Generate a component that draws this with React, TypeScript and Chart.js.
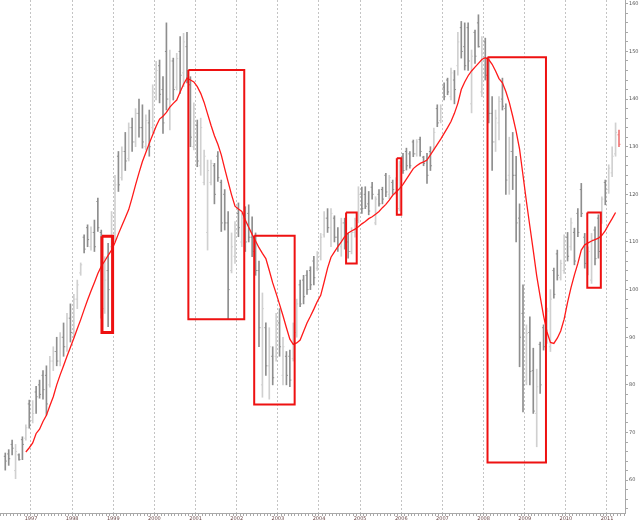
import React, { useEffect, useRef } from 'react';
import { Chart, registerables } from 'chart.js';

Chart.register(...registerables);

// x positions are months counted from January 1997 (first bar = May 1996)
const BASE_YEAR = 1997;
const FIRST_BAR_MONTH = -7.5;
const X_MIN = -9.04;
const X_MAX = 173.25;
const Y_MIN = 53.1;
const Y_MAX = 160.8;

const opens = [
  65.0, 65.5, 67.5, 62.0, 65.3, 68.5, 68.8, 76.0, 72.5, 78.5, 80.0, 82.0,
  82.0, 80.0, 85.0, 87.0, 85.0, 90.0, 88.0, 94.0, 91.0, 98.0, 103.5, 111.0,
  113.0, 109.0, 112.0, 118.5, 112.0, 96.0, 104.0, 109.0, 116.0, 128.0, 123.5, 129.0,
  127.5, 134.0, 131.0, 137.0, 134.0, 130.0, 135.0, 134.0, 140.0, 147.0, 142.0, 150.0,
  140.0, 148.0, 142.5, 150.0, 145.5, 151.0, 143.0, 130.0, 134.5, 126.0, 122.5, 112.0,
  122.5, 126.0, 128.0, 122.5, 120.0, 114.0, 104.0, 107.0, 116.0, 110.0, 116.0, 116.0,
  111.0, 108.0, 104.0, 80.0, 92.0, 84.0, 86.0, 86.0, 93.0, 82.0, 86.0, 86.0,
  85.5, 91.0, 101.0, 102.0, 103.0, 104.0, 106.0, 104.5, 107.0, 111.5, 115.0, 113.0,
  115.0, 111.0, 109.0, 114.0, 110.0, 108.0, 112.0, 114.5, 120.0, 120.0, 118.0, 121.5,
  114.0, 120.0, 121.0, 124.0, 120.0, 122.5, 120.5, 117.0, 128.0, 129.0, 128.5, 131.0,
  128.5, 131.5, 127.8, 127.0, 129.0, 129.5, 138.0, 135.5, 142.5, 144.0, 140.5, 144.0,
  147.0, 155.0, 151.0, 155.0, 139.0, 154.0, 156.0, 141.5, 152.0, 146.0, 137.0, 131.0,
  135.0, 140.0, 138.0, 124.0, 129.0, 124.0, 115.0, 95.0, 81.0, 91.0, 83.0, 74.0,
  88.5, 92.0, 89.0, 88.0, 104.0, 107.5, 102.5, 104.0, 111.0, 109.0, 112.0, 116.0,
  121.0, 111.0, 103.5, 102.0, 112.5, 115.0, 114.5, 122.5, 121.0, 124.5, 128.5, 132.5,
];

const highs = [
  65.7, 66.4, 68.4, 67.5, 65.5, 69.1, 71.6, 76.8, 76.7, 79.7, 81.0, 83.0,
  84.0, 86.0, 88.0, 90.0, 91.0, 93.0, 95.0, 97.0, 99.0, 102.0, 105.6, 111.5,
  113.6, 113.2, 114.6, 119.2, 112.5, 106.9, 109.7, 116.4, 124.0, 129.0, 130.0, 133.0,
  135.0, 136.0, 138.0, 140.0, 138.8, 136.7, 137.7, 143.0, 147.9, 148.2, 144.7, 156.0,
  150.3, 148.6, 149.6, 153.1, 153.8, 154.0, 144.7, 139.2, 135.6, 136.0, 129.3, 127.2,
  127.2, 126.5, 129.0, 123.0, 121.0, 116.4, 111.9, 114.3, 118.2, 116.0, 117.4, 117.8,
  115.3, 111.9, 106.0, 99.3, 93.0, 92.0, 88.0, 95.0, 96.0, 90.0, 87.0, 87.3,
  93.0, 98.0, 102.0, 103.0, 104.0, 104.8, 107.0, 108.0, 111.8, 116.4, 117.0, 117.0,
  115.5, 113.0, 115.0, 115.0, 111.8, 113.0, 115.0, 121.6, 121.5, 121.6, 120.6, 122.5,
  119.5, 121.0, 121.5, 124.4, 124.0, 123.0, 123.5, 127.0, 128.6, 129.7, 129.0, 131.4,
  131.5, 132.0, 128.0, 128.6, 130.0, 133.9, 138.8, 138.8, 143.4, 144.4, 146.5, 146.0,
  154.0, 156.3, 156.0, 156.0, 150.3, 154.5, 157.7, 153.1, 152.8, 148.5, 140.5, 137.7,
  140.5, 144.4, 139.0, 132.0, 133.0, 128.0, 118.0, 101.0, 92.6, 94.3, 87.7, 83.3,
  89.0, 92.6, 96.1, 100.0, 104.5, 108.3, 106.2, 111.5, 112.0, 115.0, 112.9, 117.0,
  122.3, 111.8, 109.0, 111.8, 113.2, 115.7, 119.5, 123.0, 126.2, 130.0, 135.0, 133.5,
];

const lows = [
  62.1, 63.1, 65.3, 60.3, 64.2, 64.3, 68.4, 70.9, 72.0, 74.0, 77.2, 77.0,
  73.7, 79.5, 83.0, 84.0, 84.0, 86.0, 87.0, 89.0, 90.0, 96.0, 103.0, 107.7,
  109.0, 108.3, 108.0, 112.2, 94.0, 95.0, 92.2, 108.3, 110.0, 120.6, 123.0, 125.0,
  127.0, 129.0, 130.0, 132.0, 129.7, 129.3, 128.0, 132.9, 139.8, 139.2, 132.8, 137.7,
  133.5, 139.8, 141.9, 141.2, 142.6, 143.4, 130.0, 129.3, 125.8, 124.0, 122.0, 108.3,
  122.0, 118.0, 122.7, 112.2, 112.5, 93.8, 103.5, 105.5, 111.1, 109.0, 108.0, 110.0,
  106.9, 103.0, 88.0, 77.4, 82.0, 77.0, 80.0, 85.0, 86.0, 80.0, 80.0, 79.6,
  85.0, 90.0, 96.4, 97.0, 99.0, 100.0, 101.0, 104.0, 106.2, 111.0, 112.0, 109.0,
  110.0, 108.0, 107.0, 108.5, 106.6, 107.5, 111.0, 114.0, 116.0, 117.0, 115.7, 119.0,
  113.6, 117.5, 118.0, 119.5, 119.0, 120.0, 120.0, 116.5, 124.4, 125.1, 125.5, 127.9,
  128.0, 128.0, 126.0, 122.3, 125.0, 129.3, 134.2, 135.0, 139.8, 140.9, 139.8, 139.0,
  145.0, 148.6, 146.1, 146.0, 137.1, 147.5, 150.9, 140.5, 144.0, 135.0, 125.0, 129.0,
  131.4, 137.7, 120.0, 120.0, 121.0, 110.0, 83.8, 74.3, 80.0, 80.0, 74.0, 67.0,
  78.2, 87.3, 88.7, 87.0, 98.2, 102.0, 102.0, 103.4, 106.0, 108.3, 105.2, 111.1,
  115.3, 104.5, 103.1, 101.3, 105.2, 106.6, 113.9, 117.8, 120.2, 123.7, 128.0, 130.0,
];

const closes = [
  64.0, 64.5, 66.7, 66.0, 64.3, 67.5, 71.0, 71.5, 74.0, 77.5, 78.0, 79.0,
  76.0, 85.0, 87.0, 85.0, 90.0, 88.0, 94.0, 91.0, 98.0, 101.0, 105.2, 108.5,
  110.5, 112.0, 109.0, 113.0, 96.0, 102.0, 100.0, 115.5, 122.0, 122.0, 129.0, 127.0,
  134.0, 131.0, 137.0, 134.0, 131.0, 135.5, 130.0, 141.5, 146.0, 141.0, 135.0, 140.0,
  148.0, 142.0, 148.5, 145.0, 152.0, 145.0, 132.0, 138.0, 127.0, 134.0, 128.0, 125.0,
  126.5, 120.0, 123.5, 114.0, 114.0, 100.0, 109.0, 112.5, 113.0, 115.0, 110.0, 111.0,
  108.0, 104.0, 92.0, 96.0, 84.0, 88.0, 81.5, 93.0, 88.0, 88.0, 82.0, 81.0,
  92.5, 97.0, 97.0, 98.5, 100.0, 101.0, 102.5, 107.5, 111.0, 115.0, 113.0, 116.0,
  111.0, 109.5, 114.0, 110.0, 108.0, 112.0, 114.5, 120.0, 117.0, 117.5, 116.5, 120.0,
  119.0, 118.0, 119.0, 120.5, 123.5, 121.0, 123.0, 126.0, 125.0, 126.0, 126.0, 128.5,
  131.0, 129.0, 126.5, 124.0, 126.0, 133.0, 135.0, 138.0, 140.5, 141.5, 145.5, 142.0,
  152.0, 150.0, 147.0, 148.0, 149.0, 149.0, 151.0, 149.5, 145.0, 137.0, 131.0, 136.0,
  139.5, 138.5, 123.0, 129.0, 124.0, 114.0, 90.0, 80.0, 90.8, 82.8, 74.5, 79.6,
  80.0, 88.0, 95.5, 98.0, 99.0, 103.0, 105.5, 110.0, 107.0, 114.0, 106.0, 112.0,
  116.0, 105.5, 108.0, 110.5, 106.5, 108.0, 119.0, 118.5, 125.5, 128.0, 133.0, 130.5,
];

// moving average line, starts at bar index MA_START
const MA_START = 6;
const maValues = [
  65.9, 66.8, 67.8, 69.8, 70.7, 72.3, 73.6, 75.6, 77.5, 80.0, 82.1, 84.0,
  86.0, 87.9, 89.8, 91.8, 93.7, 95.8, 97.8, 99.7, 101.5, 103.4, 104.9, 106.0,
  107.2, 108.3, 109.9, 111.7, 113.4, 115.1, 116.8, 119.3, 122.0, 124.5, 126.9, 128.8,
  130.7, 132.5, 134.3, 135.8, 136.4, 137.2, 138.3, 139.1, 139.8, 141.5, 143.1, 144.4,
  144.0, 143.6, 142.6, 141.2, 139.3, 136.9, 134.5, 132.3, 130.5, 128.3, 125.4, 122.6,
  119.9, 117.5, 116.9, 116.4, 114.6, 113.1, 111.6, 110.2, 108.8, 107.6, 106.5, 104.0,
  101.4, 99.2, 96.9, 94.5, 92.0, 89.6, 88.5, 88.8, 89.4, 91.2, 93.0, 94.4,
  95.9, 97.5, 98.8, 101.6, 104.5, 106.8, 107.9, 109.0, 110.0, 111.1, 111.9, 112.3,
  112.7, 113.2, 113.8, 114.3, 114.9, 115.3, 115.8, 116.4, 117.2, 117.9, 118.8, 119.8,
  120.5, 121.2, 122.1, 123.2, 124.3, 125.4, 126.0, 126.5, 126.8, 127.2, 128.3, 129.4,
  130.5, 131.6, 132.8, 134.0, 135.3, 137.0, 139.1, 142.0, 143.6, 144.9, 145.9, 146.7,
  147.5, 148.3, 148.7, 148.3, 147.3, 145.9, 144.3, 143.4, 141.6, 139.3, 136.4, 133.2,
  129.5, 124.0, 118.5, 113.3, 108.2, 102.9, 98.6, 94.5, 91.1, 88.9, 88.7, 89.8,
  91.3, 93.8, 97.3, 100.4, 103.1, 105.5, 108.3, 109.4, 109.8, 110.2, 110.5, 110.8,
  111.4, 112.4, 113.7, 114.9, 116.2,
];

// highlighted rectangles (x in months from Jan 1997, y in price)
const boxLeft = [20.7, 45.9, 65.1, 91.9, 106.7, 133.15, 162.25];
const boxRight = [23.8, 62.2, 76.9, 95.0, 108.0, 150.2, 166.2];
const boxTop = [111.2, 146.1, 111.3, 116.2, 127.6, 148.8, 116.2];
const boxBottom = [91.0, 93.8, 75.9, 105.5, 115.7, 63.7, 100.4];

export default function App() {
  const canvasRef = useRef<HTMLCanvasElement | null>(null);

  useEffect(() => {
    const canvas = canvasRef.current;
    if (!canvas) return;
    const last = opens.length - 1;
    const xs = opens.map((_, i) => FIRST_BAR_MONTH + i);
    const colors = opens.map((o, i) =>
      i === last ? '#f07878' : closes[i] < o ? '#8e8e8e' : '#d0d0d0'
    );

    const boxSets = boxLeft.map((l, k) => ({
      type: 'line' as const,
      data: [
        { x: l, y: boxTop[k] },
        { x: boxRight[k], y: boxTop[k] },
        { x: boxRight[k], y: boxBottom[k] },
        { x: l, y: boxBottom[k] },
        { x: l, y: boxTop[k] },
      ],
      borderColor: '#ee1111',
      borderWidth: k === 0 ? 3 : 2,
      pointRadius: 0,
      tension: 0,
      fill: false,
      order: 0,
    }));

    const chart = new Chart(canvas, {
      type: 'bar',
      data: {
        datasets: [
          {
            type: 'bar',
            data: xs.map((x, i) => ({ x, y: [lows[i], highs[i]] })) as any,
            backgroundColor: colors,
            borderWidth: 0,
            barThickness: 1,
            order: 5,
          },
          {
            type: 'scatter',
            data: xs.map((x, i) => ({ x, y: opens[i] })),
            pointStyle: 'dash',
            pointRotation: 180,
            pointRadius: 1.5,
            pointBorderWidth: 1,
            pointBorderColor: colors,
            pointBackgroundColor: colors,
            order: 4,
          } as any,
          {
            type: 'scatter',
            data: xs.map((x, i) => ({ x, y: closes[i] })),
            pointStyle: 'dash',
            pointRadius: 1.5,
            pointBorderWidth: 1,
            pointBorderColor: colors,
            pointBackgroundColor: colors,
            order: 4,
          } as any,
          {
            type: 'line',
            data: maValues.map((v, k) => ({ x: FIRST_BAR_MONTH + MA_START + k, y: v })),
            borderColor: '#ff1a1a',
            borderWidth: 1.3,
            pointRadius: 0,
            tension: 0,
            fill: false,
            order: 1,
          },
          ...boxSets,
        ] as any,
      },
      options: {
        responsive: false,
        animation: false,
        devicePixelRatio: 1,
        events: [],
        layout: { padding: 0, autoPadding: false },
        plugins: {
          legend: { display: false },
          tooltip: { enabled: false },
        },
        scales: {
          x: {
            type: 'linear',
            position: 'bottom',
            min: X_MIN,
            max: X_MAX,
            offset: false,
            afterFit: (s: any) => {
              s.height = 11;
              s.paddingLeft = 0;
              s.paddingRight = 0;
            },
            ticks: {
              stepSize: 1,
              autoSkip: false,
              includeBounds: false,
              maxRotation: 0,
              minRotation: 0,
              padding: 0,
              color: '#6a4848',
              font: { size: 5, family: 'DejaVu Sans' },
              callback: (v: any) =>
                Number(v) % 12 === 0 ? String(BASE_YEAR + Number(v) / 12) : '',
            },
            grid: {
              offset: false,
              drawOnChartArea: true,
              color: (ctx: any) =>
                ctx.tick && ctx.tick.value % 12 === 0 ? '#c4c4c4' : 'rgba(0,0,0,0)',
              lineWidth: 1,
              tickColor: '#a8a8a8',
              tickLength: 3,
            },
            border: { color: '#a8a8a8', width: 1, dash: [2, 2] },
          },
          y: {
            type: 'linear',
            position: 'right',
            min: Y_MIN,
            max: Y_MAX,
            afterFit: (s: any) => {
              s.width = 15;
              s.paddingTop = 0;
              s.paddingBottom = 0;
            },
            ticks: {
              stepSize: 2,
              autoSkip: false,
              includeBounds: false,
              padding: 1,
              color: '#555555',
              font: { size: 5, family: 'DejaVu Sans' },
              callback: (v: any) => (Number(v) % 10 === 0 ? String(v) : ''),
            },
            grid: {
              drawOnChartArea: false,
              tickLength: 3,
              tickColor: '#a8a8a8',
            },
            border: { color: '#a8a8a8', width: 1 },
          },
        },
      } as any,
    });

    return () => chart.destroy();
  }, []);

  return (
    <div style={{ position: 'absolute', left: 0, top: 0, width: 640, height: 524, background: '#fff' }}>
      <canvas ref={canvasRef} width={640} height={524} style={{ display: 'block' }} />
    </div>
  );
}
